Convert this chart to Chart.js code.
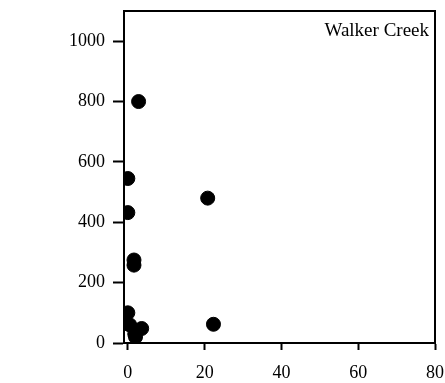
<!DOCTYPE html>
<html>
<head>
<meta charset="utf-8">
<script src="https://cdn.jsdelivr.net/npm/chart.js@4"></script>
<style>
  html, body { margin: 0; padding: 0; background: #fff; }
  #wrap { width: 445px; height: 383px; }
</style>
</head>
<body>
<div id="wrap"><canvas id="scatterChart" width="445" height="383"></canvas></div>
<script>
// values
const siteName = 'Walker Creek';
const xValues = [2.8, 0, 20.8, 0, 1.6, 1.6, 0, -0.3, 0.5, 1.8, 2, 3.6, 22.3];
const yValues = [800, 545, 480, 432, 275, 258, 100, 65, 60, 30, 20, 48, 62];
const xTicks = [0, 20, 40, 60, 80];
const yTicks = [0, 200, 400, 600, 800, 1000];

const serif = "'Liberation Serif', 'Times New Roman', serif";

// box round the plot area + site name in the corner
const framePlugin = {
    id: 'frame',
    afterDraw(chart) {
        const { ctx, chartArea: a } = chart;
        ctx.save();
        ctx.strokeStyle = '#000';
        ctx.lineWidth = 2;
        ctx.strokeRect(a.left, a.top, a.right - a.left, a.bottom - a.top);
        ctx.fillStyle = '#000';
        ctx.font = '19px ' + serif;
        ctx.textAlign = 'right';
        ctx.textBaseline = 'middle';
        ctx.fillText(siteName, a.right - 6, a.top + 20);
        ctx.restore();
    }
};

function noPad(s) {
    s.paddingTop = 0;
    s.paddingBottom = 0;
    s.paddingLeft = 0;
    s.paddingRight = 0;
}

const ctx = document.getElementById('scatterChart').getContext('2d');
new Chart(ctx, {
    type: 'scatter',
    data: {
        datasets: [{
            data: xValues.map((x, i) => ({ x: x, y: yValues[i] })),
            backgroundColor: '#000',
            borderColor: '#000',
            pointRadius: 7,
            pointHoverRadius: 7
        }]
    },
    options: {
        responsive: false,
        animation: false,
        layout: { padding: { top: 11, right: 10, left: 0, bottom: 0 } },
        plugins: {
            legend: { display: false },
            tooltip: { enabled: false }
        },
        scales: {
            x: {
                type: 'linear',
                min: -1,
                max: 80,
                afterBuildTicks: s => { s.ticks = xTicks.map(v => ({ value: v })); },
                afterFit: s => { s.height = 40; noPad(s); },
                grid: { drawOnChartArea: false, drawTicks: true, tickLength: 7, tickWidth: 2, tickColor: '#000' },
                border: { display: true, color: '#000', width: 2 },
                ticks: { color: '#000', font: { family: serif, size: 18 }, padding: 12, maxRotation: 0,
                         callback: v => String(v) }
            },
            y: {
                type: 'linear',
                min: 0,
                max: 1100,
                afterBuildTicks: s => { s.ticks = yTicks.map(v => ({ value: v })); },
                afterFit: s => { s.width = 124; noPad(s); },
                grid: { drawOnChartArea: false, drawTicks: true, tickLength: 11, tickWidth: 2, tickColor: '#000' },
                border: { display: true, color: '#000', width: 2 },
                ticks: { color: '#000', font: { family: serif, size: 18 }, padding: 8,
                         callback: v => String(v) }
            }
        }
    },
    plugins: [framePlugin]
});
</script>
</body>
</html>
